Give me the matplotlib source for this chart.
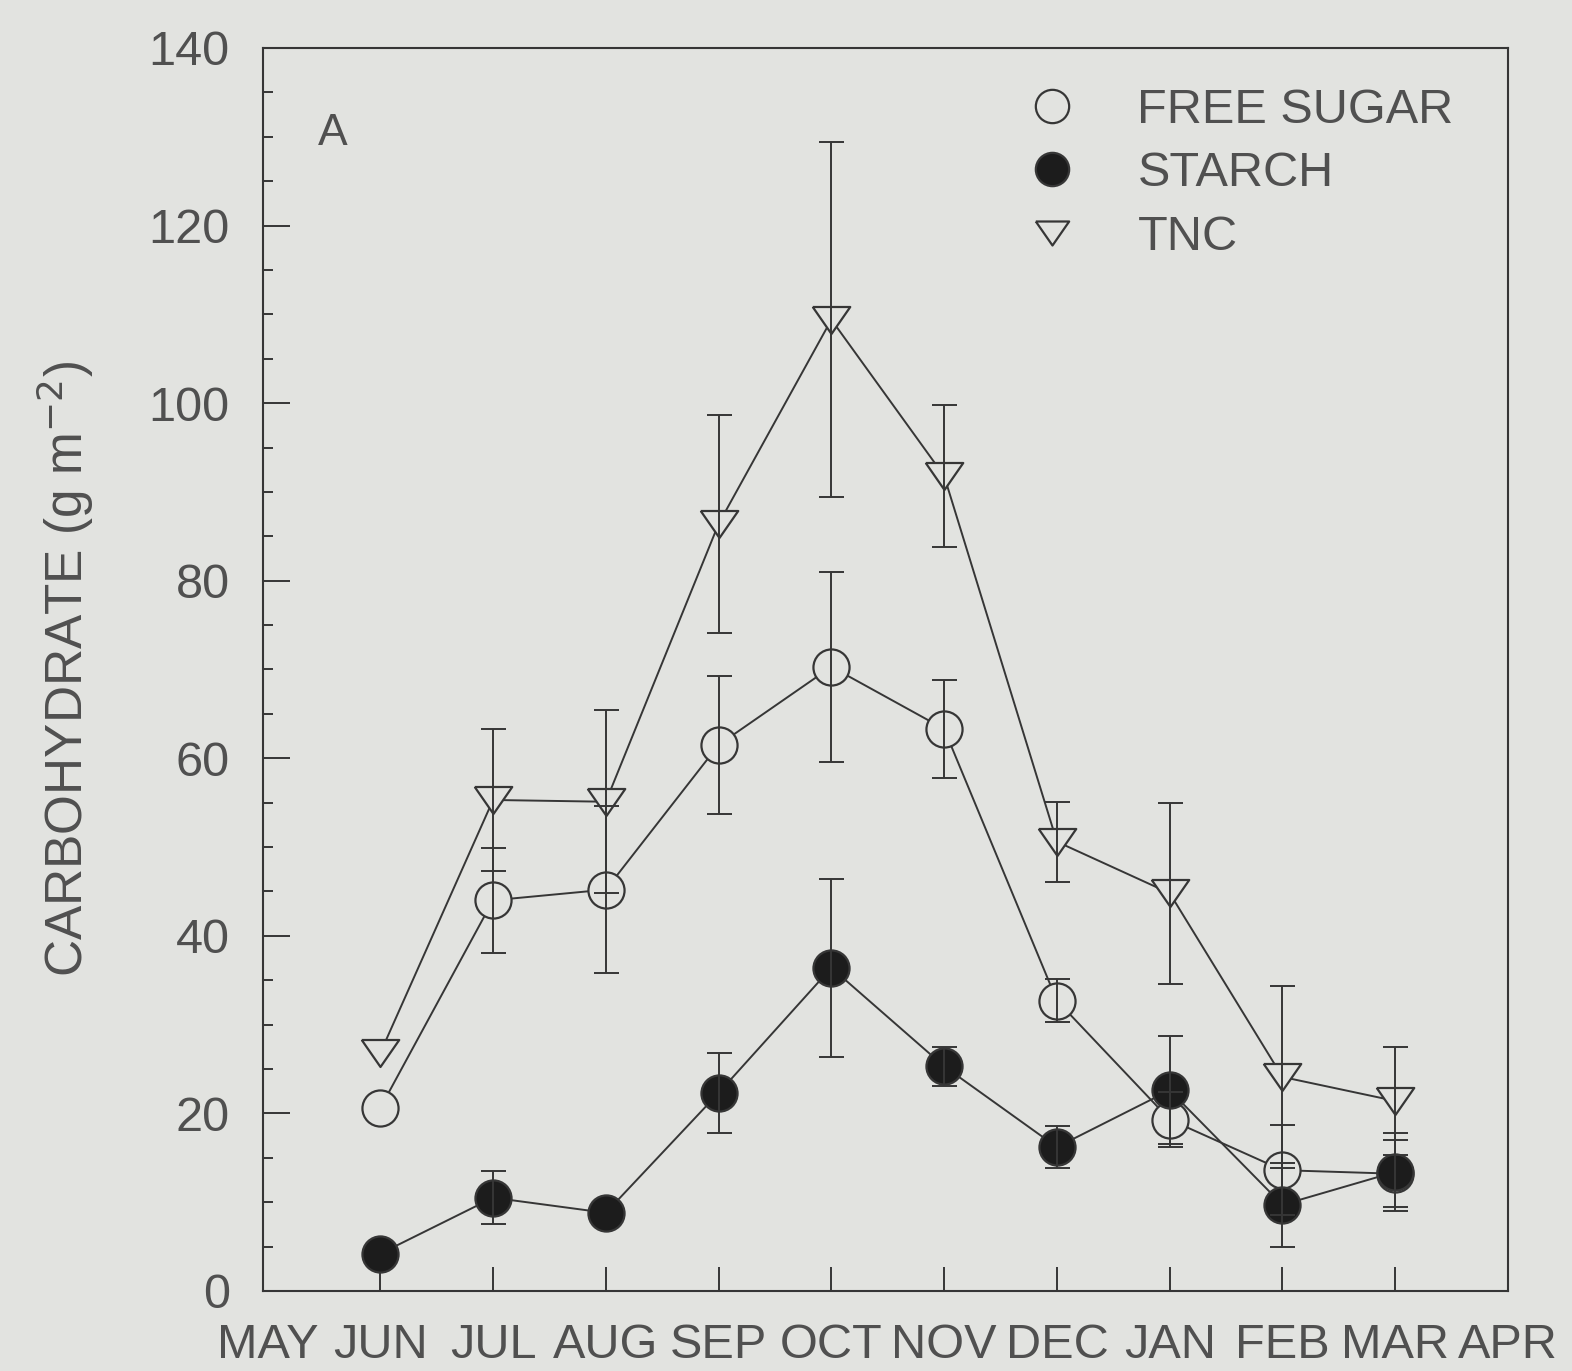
import matplotlib
matplotlib.use("Agg")
import matplotlib.pyplot as plt
from matplotlib.lines import Line2D
from matplotlib.ticker import MultipleLocator
import numpy as np

# --- data (g m-2) ---
months = ["MAY", "JUN", "JUL", "AUG", "SEP", "OCT", "NOV", "DEC", "JAN", "FEB", "MAR", "APR"]
sample_idx = [1, 2, 3, 4, 5, 6, 7, 8, 9, 10]   # JUN .. MAR

# nan = error bar hidden behind the symbol in the original
free_sugar = [20.6, 44.0, 45.2, 61.5, 70.3, 63.3, 32.7, 19.3, 13.6, 13.2]
free_sugar_se = [np.nan, 5.9, 9.4, 7.8, 10.7, 5.5, 2.4, 3.1, 5.1, 3.8]

starch = [4.2, 10.5, 8.8, 22.3, 36.4, 25.3, 16.2, 22.6, 9.7, 13.4]
starch_se = [np.nan, 3.0, np.nan, 4.5, 10.0, 2.2, 2.4, 6.1, 4.7, 4.4]

tnc = [26.8, 55.3, 55.1, 86.4, 109.4, 91.8, 50.6, 44.8, 24.1, 21.4]
tnc_se = [np.nan, 8.0, 10.3, 12.3, 20.0, 8.0, 4.5, 10.2, 10.2, 6.1]

BG = "#e2e3e0"
INK = "#363636"
TXT = "#505050"
FILL = "#1c1c1c"

# flattened down-triangle like the original plotting package
TRI = [(-1, 0.72), (1, 0.72), (0, -0.72), (-1, 0.72)]

plt.rcParams["font.family"] = ["Liberation Sans", "DejaVu Sans"]

fig = plt.figure(figsize=(15.72, 13.71), dpi=100, facecolor=BG)
ax = fig.add_axes([0.1673, 0.0584, 0.792, 0.9066], facecolor=BG)

series = [
    (tnc, tnc_se, TRI, BG, 27),
    (free_sugar, free_sugar_se, "o", BG, 26),
    (starch, starch_se, "o", FILL, 26),
]
# connecting lines below markers, error bars on top (as in the original)
for k, (vals, se, mk, fc, ms) in enumerate(series):
    ax.plot(sample_idx, vals, color=INK, lw=1.4, zorder=2 + 0.1 * k)
    ax.plot(sample_idx, vals, ls="none", marker=mk, markersize=ms,
            mfc=fc, mec=INK, mew=1.6, zorder=3 + 0.1 * k)
    ax.errorbar(sample_idx, vals, yerr=se, fmt="none", ecolor=INK, elinewidth=1.4,
                capsize=9, capthick=1.4, zorder=4)

ax.set_xlim(-0.04, 10.95)
ax.set_ylim(0, 140)
ax.set_xticks(range(len(months)))
ax.set_xticklabels(months)
ax.yaxis.set_major_locator(MultipleLocator(20))
ax.yaxis.set_minor_locator(MultipleLocator(5))

ax.tick_params(axis="x", direction="in", length=17, width=1.4, color=INK,
               labelsize=35, labelcolor=TXT, pad=23)
ax.tick_params(axis="y", which="major", direction="in", length=19.5, width=1.4, color=INK,
               labelsize=35, labelcolor=TXT, pad=24)
ax.tick_params(axis="y", which="minor", direction="in", length=7, width=1.4, color=INK)
ax.tick_params(top=False, right=False)
xt = ax.xaxis.get_major_ticks()
for t in (xt[0], xt[-1]):
    t.tick1line.set_visible(False)
for lbl in ax.get_xticklabels():
    lbl.set_clip_on(False)

for s in ax.spines.values():
    s.set_color(INK)
    s.set_linewidth(1.5)

ax.set_ylabel("CARBOHYDRATE (g m$^{-2}$)", fontsize=37, color=TXT, labelpad=38)
ax.text(0.044, 0.922, "A", transform=ax.transAxes, fontsize=32, color=TXT)

handles = [
    Line2D([], [], marker="o", ls="none", mfc=BG, mec=INK, mew=1.6, markersize=24),
    Line2D([], [], marker="o", ls="none", mfc=FILL, mec=INK, mew=1.6, markersize=24),
    Line2D([], [], marker=TRI, ls="none", mfc=BG, mec=INK, mew=1.6, markersize=24),
]
ax.legend(handles, ["FREE SUGAR", "STARCH", "TNC"], loc="upper left",
          bbox_to_anchor=(0.5755, 1.003), frameon=False, fontsize=35,
          labelcolor=TXT, handletextpad=1.15, labelspacing=0.38, handlelength=1.2)

fig.savefig("out.png", dpi=100, facecolor=BG)
